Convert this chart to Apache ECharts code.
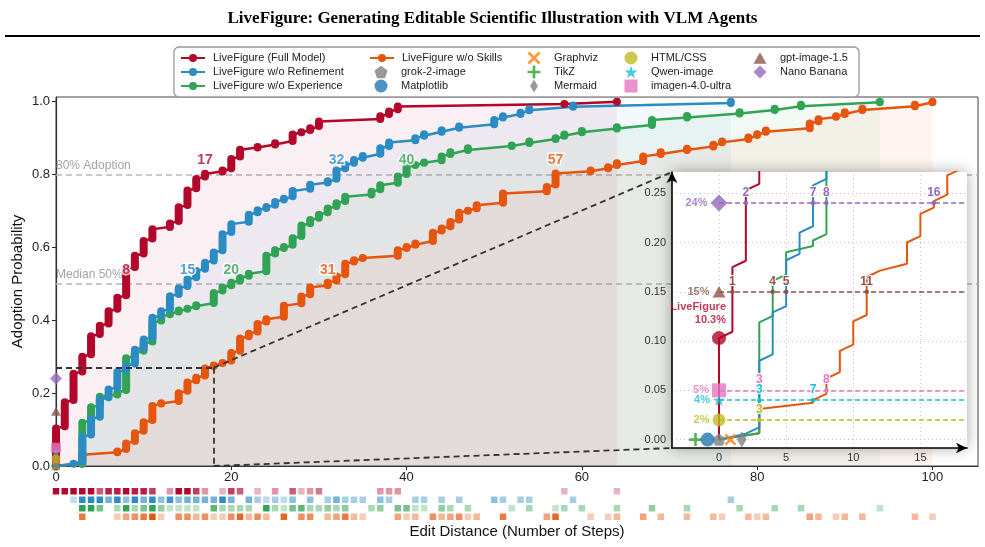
<!DOCTYPE html>
<html>
<head>
<meta charset="utf-8">
<script src="https://cdn.jsdelivr.net/npm/echarts@6/dist/echarts.min.js"></script>
<style>
  html, body { margin: 0; padding: 0; background: #fff; }
  #chart { width: 985px; height: 547px; }
</style>
</head>
<body>
<div id="chart"></div>
<script>
// ---- data ----
const variantNames = ['LiveFigure (Full Model)', 'LiveFigure w/o Refinement', 'LiveFigure w/o Experience', 'LiveFigure w/o Skills'];
const variantColors = ['#b2062b', '#2b8cc4', '#31a354', '#e6550d'];

// distinct edit distances and the cumulative adoption reached at each of them
const fullSteps = [0, 1, 2, 3, 4, 5, 6, 7, 8, 9, 10, 11, 13, 14, 15, 16, 17, 19, 20, 21, 23, 25, 27, 28, 29, 30, 37, 38, 39, 58, 64];
const fullCdf = [0.103, 0.175, 0.253, 0.300, 0.356, 0.385, 0.425, 0.462, 0.540, 0.577, 0.618, 0.650, 0.666, 0.710, 0.756, 0.788, 0.802, 0.811, 0.843, 0.868, 0.876, 0.886, 0.910, 0.916, 0.927, 0.946, 0.960, 0.973, 0.987, 0.994, 1.000];

const noRefineSteps = [2, 3, 4, 5, 6, 7, 8, 9, 10, 11, 12, 13, 14, 15, 16, 17, 18, 19, 20, 22, 23, 24, 25, 26, 27, 29, 31, 32, 33, 34, 35, 37, 38, 41, 42, 44, 46, 50, 51, 53, 54, 59, 77];
const noRefineCdf = [0.006, 0.080, 0.129, 0.182, 0.210, 0.258, 0.275, 0.319, 0.347, 0.407, 0.425, 0.466, 0.488, 0.512, 0.535, 0.558, 0.586, 0.636, 0.664, 0.690, 0.702, 0.711, 0.725, 0.734, 0.755, 0.772, 0.782, 0.811, 0.826, 0.840, 0.851, 0.872, 0.888, 0.900, 0.911, 0.922, 0.932, 0.950, 0.960, 0.970, 0.980, 0.990, 1.000];

const noExpSteps = [3, 4, 5, 7, 8, 9, 10, 11, 12, 13, 14, 15, 16, 18, 19, 20, 21, 22, 24, 25, 26, 27, 28, 29, 30, 31, 32, 33, 36, 37, 39, 40, 41, 42, 44, 45, 47, 52, 54, 57, 58, 60, 64, 68, 72, 78, 82, 85, 94];
const noExpCdf = [0.119, 0.161, 0.190, 0.202, 0.296, 0.310, 0.335, 0.393, 0.410, 0.418, 0.427, 0.432, 0.441, 0.475, 0.490, 0.503, 0.516, 0.528, 0.577, 0.592, 0.601, 0.625, 0.660, 0.675, 0.690, 0.707, 0.721, 0.739, 0.753, 0.771, 0.795, 0.820, 0.826, 0.833, 0.850, 0.861, 0.872, 0.880, 0.891, 0.900, 0.910, 0.920, 0.930, 0.950, 0.961, 0.971, 0.981, 0.992, 1.000];

const noSkillSteps = [3, 7, 8, 9, 10, 11, 12, 14, 15, 16, 17, 18, 19, 20, 21, 22, 23, 24, 26, 28, 29, 31, 32, 33, 34, 35, 39, 40, 41, 43, 44, 45, 46, 47, 48, 51, 56, 57, 61, 63, 64, 67, 69, 72, 75, 76, 79, 80, 81, 86, 87, 89, 90, 92, 98, 100];
const noSkillCdf = [0.031, 0.040, 0.062, 0.090, 0.120, 0.165, 0.172, 0.200, 0.229, 0.242, 0.268, 0.276, 0.283, 0.310, 0.350, 0.363, 0.390, 0.403, 0.440, 0.465, 0.490, 0.503, 0.520, 0.555, 0.565, 0.571, 0.592, 0.601, 0.611, 0.640, 0.652, 0.670, 0.695, 0.701, 0.716, 0.748, 0.766, 0.803, 0.811, 0.820, 0.831, 0.850, 0.861, 0.871, 0.882, 0.891, 0.902, 0.911, 0.921, 0.940, 0.952, 0.960, 0.971, 0.981, 0.992, 1.000];

const variantSteps = [fullSteps, noRefineSteps, noExpSteps, noSkillSteps];
const variantCdf = [fullCdf, noRefineCdf, noExpCdf, noSkillCdf];
const N_TASKS = 155;

// single-shot baselines (adoption at zero edits)
const baselineNames = ['grok-2-image', 'Matplotlib', 'Graphviz', 'TikZ', 'Mermaid', 'HTML/CSS', 'Qwen-image', 'imagen-4.0-ultra', 'gpt-image-1.5', 'Nano Banana'];
const baselineRates = [0, 0, 0, 0, 0, 0.02, 0.04, 0.05, 0.15, 0.24];
const baselineColors = ['#7f7f7f', '#1f77b4', '#ff7f0e', '#2ca02c', '#7f7f7f', '#bcbd22', '#17becf', '#e377c2', '#8c564b', '#9467bd'];

const adoptionLevels = [0.5, 0.8];
const adoptionTexts = ['Median 50%', '80% Adoption'];
const mainTicksX = [0, 20, 40, 60, 80, 100];
const mainTicksY = [0, 0.2, 0.4, 0.6, 0.8, 1.0];
const insetTicksX = [0, 5, 10, 15];
const insetTicksY = [0, 0.05, 0.10, 0.15, 0.20, 0.25];

// ---- layout / style ----
const FONT = '"Liberation Sans", Arial, sans-serif';
const STEP = 1 / N_TASKS;
const MAIN = { left: 56, right: 7, top: 97, height: 369, xMax: 105.2, yMax: 1.013 };
const INSET = { left: 672, top: 172, width: 295, height: 276, xMin: -3.5, xMax: 18.47, yMin: -0.0085, yMax: 0.2715 };
const ZOOM_X = 18, ZOOM_Y = 0.27;
const baselineJitter = [0, -0.85, 0.85, -1.75, 1.7, 0, 0, 0, 0, 0];
const PENTAGON = 'path://M0,-1L0.951,-0.309L0.588,0.809L-0.588,0.809L-0.951,-0.309Z';
const STAR = 'path://M0,-1L0.2245,-0.309L0.951,-0.309L0.363,0.118L0.588,0.809L0,0.382L-0.588,0.809L-0.363,0.118L-0.951,-0.309L-0.2245,-0.309Z';
const XMARK = 'path://M-1,-0.7L-0.7,-1L0,-0.3L0.7,-1L1,-0.7L0.3,0L1,0.7L0.7,1L0,0.3L-0.7,1L-1,0.7L-0.3,0Z';
const PLUS = 'path://M-0.2,-1L0.2,-1L0.2,-0.2L1,-0.2L1,0.2L0.2,0.2L0.2,1L-0.2,1L-0.2,0.2L-1,0.2L-1,-0.2L-0.2,-0.2Z';
const THIN_DIAMOND = 'path://M0,-1L0.6,0L0,1L-0.6,0Z';
const TRIANGLE = 'path://M0,-1L1,0.8L-1,0.8Z';
const DIAMOND = 'path://M0,-1L1,0L0,1L-1,0Z';
const SQUARE = 'path://M-1,-1L1,-1L1,1L-1,1Z';
const baselineSymbols = [PENTAGON, 'circle', XMARK, PLUS, THIN_DIAMOND, 'circle', STAR, SQUARE, TRIANGLE, DIAMOND];
const baselineMainSize = [9, 9, 9, 9, 10, 9, 9, 10, 10, 12];
const baselineInsetSize = [13, 14, 12, 13, 16, 13, 12, 14, 13, 17];

const variants = variantNames.map((name, i) => ({ name, color: variantColors[i], steps: variantSteps[i], cdf: variantCdf[i] }));

function buildCurve (v) {
  const pts = [[0, 0]];
  const runs = [];
  const rug = [];
  let prev = 0;
  v.steps.forEach((x, k) => {
    const top = v.cdf[k];
    const lo = Math.min(prev + STEP, top);
    pts.push([x, lo]);
    if (top > lo) pts.push([x, top]);
    runs.push([x, lo, top]);
    rug.push([x, Math.max(1, Math.round((top - prev) / STEP))]);
    prev = top;
  });
  return { pts, runs, rug };
}

function firstReach (v, level) {
  for (let k = 0; k < v.steps.length; k++) {
    if (v.cdf[k] >= level - 1e-9) return v.steps[k];
  }
  return null;
}

function runRenderer (color) {
  return function (params, api) {
    const x = api.value(0);
    const pLo = api.coord([x, api.value(1)]);
    const pHi = api.coord([x, api.value(2)]);
    const w = 8;
    return {
      type: 'rect',
      shape: { x: pHi[0] - w / 2, y: pHi[1] - w / 2, width: w, height: pLo[1] - pHi[1] + w, r: w / 2 },
      style: { fill: color }
    };
  };
}

const series = [];

// main curves, drawn orange first so red ends on top
[3, 2, 1, 0].forEach((i) => {
  const v = variants[i];
  const c = buildCurve(v);
  const line = {
    type: 'line', name: v.name, xAxisIndex: 0, yAxisIndex: 0,
    data: c.pts, symbol: 'circle', symbolSize: 8, showSymbol: false,
    lineStyle: { width: 2.5, color: v.color }, itemStyle: { color: v.color },
    areaStyle: { color: v.color, opacity: 0.06 }, z: 2, silent: true
  };
  if (i === 3) {
    line.markLine = {
      silent: true, symbol: 'none', z: 1,
      lineStyle: { type: [6, 4], color: '#b8b8b8', width: 1.5 },
      label: { show: true, position: 'insideStartTop', color: '#a3a3a3', fontSize: 12, fontFamily: FONT, distance: [0, 3] },
      data: adoptionLevels.map((lv, k) => ({ yAxis: lv, label: { formatter: adoptionTexts[k] } }))
    };
  }
  if (i === 0) {
    line.markLine = {
      silent: true, symbol: 'none', z: 4,
      lineStyle: { type: [6, 4], color: '#333', width: 1.8 },
      label: { show: false },
      data: [
        [{ coord: [0, ZOOM_Y] }, { coord: [ZOOM_X, ZOOM_Y] }],
        [{ coord: [ZOOM_X, ZOOM_Y] }, { coord: [ZOOM_X, 0] }],
        [{ coord: [ZOOM_X, ZOOM_Y] }, { x: INSET.left, y: INSET.top }],
        [{ coord: [ZOOM_X, 0] }, { x: INSET.left, y: INSET.top + INSET.height }]
      ]
    };
  }
  series.push(line);
  series.push({
    type: 'custom', name: 'runs-' + i, xAxisIndex: 0, yAxisIndex: 0,
    data: c.runs, encode: { x: 0, y: [1, 2] },
    renderItem: runRenderer(v.color), z: 3, silent: true
  });
  // crossing labels at 50% and 80%
  series.push({
    type: 'scatter', name: 'cross-' + i, xAxisIndex: 0, yAxisIndex: 0,
    data: adoptionLevels.map(lv => [firstReach(v, lv), lv]),
    symbolSize: 0, z: 5, silent: true,
    label: {
      show: true, position: 'top', distance: 7, formatter: p => String(p.value[0]),
      color: v.color, fontSize: 14, fontWeight: 'bold', fontFamily: FONT,
      textBorderColor: '#fff', textBorderWidth: 3
    }
  });
  // inset curve
  series.push({
    type: 'line', name: 'inset-' + i, xAxisIndex: 1, yAxisIndex: 1,
    data: c.pts, showSymbol: false, symbol: 'none', clip: true,
    lineStyle: { width: 2, color: v.color }, z: 13, silent: true
  });
  // rug below the x axis
  series.push({
    type: 'scatter', name: 'rug-' + i, xAxisIndex: 2, yAxisIndex: 2,
    data: c.rug.map(r => ({ value: [r[0], i], itemStyle: { opacity: Math.min(1, 0.18 + 0.12 * r[1]) } })),
    symbol: 'rect', symbolSize: 6.5, itemStyle: { color: v.color }, silent: true
  });
});

// baselines in the main axes, stacked at x = 0
baselineNames.forEach((name, i) => {
  series.push({
    type: 'scatter', name, xAxisIndex: 0, yAxisIndex: 0,
    data: [[0, baselineRates[i]]], symbol: baselineSymbols[i], symbolSize: baselineMainSize[i],
    symbolKeepAspect: true, itemStyle: { color: baselineColors[i] }, z: 6, silent: true
  });
});

// inset dotted grid
series.push({
  type: 'line', name: 'inset-grid', xAxisIndex: 1, yAxisIndex: 1, data: [], silent: true,
  markLine: {
    silent: true, symbol: 'none', z: 11, label: { show: false },
    lineStyle: { type: [1, 3], color: '#c4c4c4', width: 1 },
    data: insetTicksX.map(t => ({ xAxis: t })).concat(insetTicksY.map(t => ({ yAxis: t })))
  }
});

// inset baselines: dashed level, crossing dots and numbers
baselineNames.forEach((name, i) => {
  const rate = baselineRates[i];
  const col = baselineColors[i];
  series.push({
    type: 'scatter', name: 'inset-' + name, xAxisIndex: 1, yAxisIndex: 1,
    data: [[baselineJitter[i], rate]], symbol: baselineSymbols[i], symbolSize: baselineInsetSize[i],
    symbolKeepAspect: true, itemStyle: { color: col }, z: 16, silent: true,
    label: {
      show: rate > 0, position: 'left', distance: 3, formatter: Math.round(rate * 100) + '%',
      color: col, fontSize: 11, fontWeight: 'bold', fontFamily: FONT
    }
  });
  if (rate <= 0) return;
  const xs = [];
  variants.forEach(v => {
    const x = firstReach(v, rate);
    if (x !== null && x > 0 && xs.indexOf(x) < 0) xs.push(x);
  });
  series.push({
    type: 'scatter', name: 'level-' + name, xAxisIndex: 1, yAxisIndex: 1,
    data: xs.map(x => [x, rate]), symbolSize: 4.5, itemStyle: { color: col, opacity: 1 }, z: 14, silent: true,
    label: {
      show: true, position: 'top', distance: 2, formatter: p => String(p.value[0]),
      color: col, opacity: 1, fontSize: 12, fontWeight: 'bold', fontFamily: FONT,
      textBorderColor: '#fff', textBorderWidth: 2
    },
    labelLayout: { hideOverlap: false },
    markLine: {
      silent: true, symbol: 'none', z: 12, label: { show: false },
      lineStyle: { type: [5, 3], color: col, width: 1.5 },
      data: [[{ coord: [0, rate] }, { coord: [INSET.xMax, rate] }]]
    }
  });
});

// LiveFigure zero-edit adoption marker
series.push({
  type: 'scatter', name: 'inset-livefigure', xAxisIndex: 1, yAxisIndex: 1,
  data: [[fullSteps[0], fullCdf[0]]], symbol: 'circle', symbolSize: 14,
  itemStyle: { color: variantColors[0] }, z: 16, silent: true,
  label: {
    show: true, position: 'top', align: 'right', offset: [7, 0],
    formatter: 'LiveFigure\n' + (fullCdf[0] * 100).toFixed(1) + '%',
    color: variantColors[0], fontSize: 11, fontWeight: 'bold', fontFamily: FONT, lineHeight: 13
  }
});

// legend columns (column-major, like the original); line items and marker items are kept in separate blocks
const ROW0 = 51, ROW_H = 14;
const legendBlocks = [
  { center: 192, row: 0, line: true, names: [variantNames[0], variantNames[1], variantNames[2]] },
  { center: 381, row: 0, line: true, names: [variantNames[3]] },
  { center: 381, row: 1, line: false, names: ['grok-2-image', 'Matplotlib'] },
  { center: 534, row: 0, line: false, names: ['Graphviz', 'TikZ', 'Mermaid'] },
  { center: 631, row: 0, line: false, names: ['HTML/CSS', 'Qwen-image', 'imagen-4.0-ultra'] },
  { center: 760, row: 0, line: false, names: ['gpt-image-1.5', 'Nano Banana'] }
];

const option = {
  animation: false,
  backgroundColor: '#fff',
  title: {
    text: 'LiveFigure: Generating Editable Scientific Illustration with VLM Agents',
    left: 'center', top: 5,
    textStyle: { fontFamily: '"Liberation Serif", "Times New Roman", serif', fontWeight: 'bold', fontSize: 17, color: '#000' }
  },
  legend: legendBlocks.map(b => {
    const w = b.line ? 24 : 13;
    return {
      orient: 'vertical', left: b.center - w / 2, top: ROW0 + b.row * ROW_H, padding: 0, itemGap: 0,
      itemWidth: w, itemHeight: b.line ? 10 : 13, selectedMode: false, z: 20,
      data: b.names,
      textStyle: { fontSize: 11, fontFamily: FONT, color: '#222', lineHeight: ROW_H, padding: [0, 0, 0, 15 - w / 2] }
    };
  }),
  grid: [
    { left: MAIN.left, right: MAIN.right, top: MAIN.top, height: MAIN.height, show: true, borderColor: '#444', borderWidth: 1, outerBoundsMode: 'none', z: 1 },
    { left: INSET.left, top: INSET.top, width: INSET.width, height: INSET.height, show: true, backgroundColor: '#fff', borderWidth: 0,
      shadowBlur: 14, shadowColor: 'rgba(0,0,0,0.35)', outerBoundsMode: 'none', z: 10 },
    { left: MAIN.left, right: MAIN.right, top: 487, height: 34, outerBoundsMode: 'none' }
  ],
  xAxis: [
    {
      gridIndex: 0, type: 'value', min: 0, max: MAIN.xMax,
      name: 'Edit Distance (Number of Steps)', nameLocation: 'middle', nameGap: 58, nameMoveOverlap: false,
      nameTextStyle: { fontSize: 15, fontFamily: FONT, color: '#111' },
      axisLine: { lineStyle: { color: '#222', width: 1.2 } },
      axisTick: { show: true, length: 4, customValues: mainTicksX, lineStyle: { color: '#222' } },
      axisLabel: { customValues: mainTicksX, fontSize: 13, fontFamily: FONT, color: '#222', margin: 5 },
      splitLine: { show: false }
    },
    {
      gridIndex: 1, type: 'value', min: INSET.xMin, max: INSET.xMax, position: 'bottom', z: 12,
      axisLine: { onZero: false, symbol: ['none', 'arrow'], symbolSize: [8, 11], lineStyle: { color: '#000', width: 1.6 } },
      axisTick: { show: false },
      axisLabel: { customValues: insetTicksX, fontSize: 11, fontFamily: FONT, color: '#333', margin: 4 },
      splitLine: { show: false }
    },
    { gridIndex: 2, type: 'value', min: 0, max: MAIN.xMax, show: false }
  ],
  yAxis: [
    {
      gridIndex: 0, type: 'value', min: 0, max: MAIN.yMax,
      name: 'Adoption Probability', nameLocation: 'middle', nameGap: 31, nameMoveOverlap: false,
      nameTextStyle: { fontSize: 15, fontFamily: FONT, color: '#111' },
      axisLine: { show: true, lineStyle: { color: '#222', width: 1.2 } },
      axisTick: { show: true, length: 4, customValues: mainTicksY, lineStyle: { color: '#222' } },
      axisLabel: { customValues: mainTicksY, formatter: v => v.toFixed(1), fontSize: 13, fontFamily: FONT, color: '#222', margin: 6 },
      splitLine: { show: false }
    },
    {
      gridIndex: 1, type: 'value', min: INSET.yMin, max: INSET.yMax, position: 'left', z: 12,
      axisLine: { show: true, onZero: false, symbol: ['none', 'arrow'], symbolSize: [8, 11], lineStyle: { color: '#000', width: 1.6 } },
      axisTick: { show: false },
      axisLabel: { customValues: insetTicksY, formatter: v => v.toFixed(2), fontSize: 11, fontFamily: FONT, color: '#333', margin: 6 },
      splitLine: { show: false }
    },
    { gridIndex: 2, type: 'value', min: -0.5, max: 3.5, inverse: true, show: false }
  ],
  graphic: [
    { type: 'line', shape: { x1: 5, y1: 36, x2: 980, y2: 36 }, style: { stroke: '#000', lineWidth: 2 }, z: 1 },
    { type: 'rect', shape: { x: 174, y: 47, width: 685, height: 50, r: 5 }, style: { fill: '#fff', stroke: '#999', lineWidth: 1.3 }, z: 19 }
  ],
  series
};

const chart = echarts.init(document.getElementById('chart'));
chart.setOption(option);
</script>
</body>
</html>
